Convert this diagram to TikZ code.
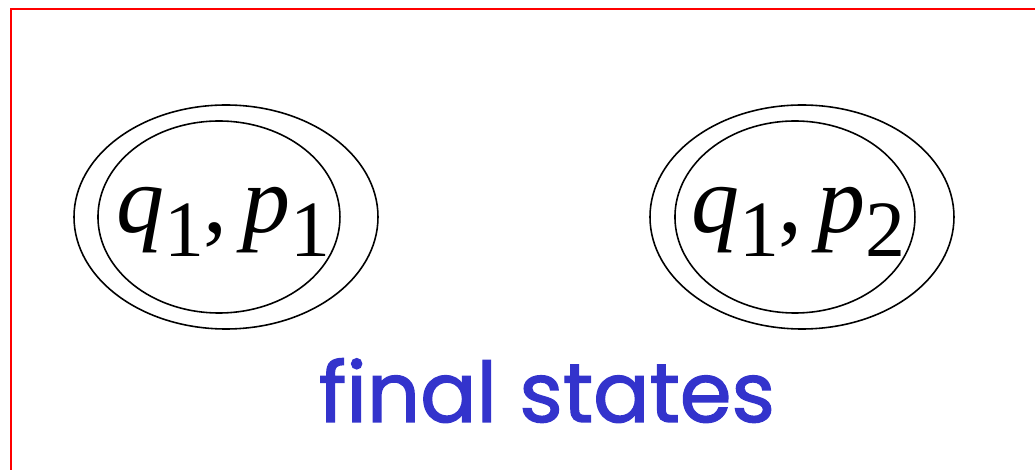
\documentclass[tikz,border=0pt]{standalone}
\usepackage{fontspec}
\setmainfont{Liberation Serif}
\newfontfamily\notefont[FakeBold=1.6]{Poppins}
\usepackage{tikz}
\definecolor{noteblue}{HTML}{3333CC}
\newcommand{\sublow}[1]{\raisebox{-6.8pt}{\upshape\fontsize{22.7}{24}\selectfont #1}}
\newcommand{\pairlabel}[2]{{\fontsize{27.3}{30}\selectfont\itshape q\/\sublow{1}\upshape,\hspace{4pt}\itshape p\/\sublow{#2}}}

\begin{document}
\begin{tikzpicture}[x=0.01cm, y=-0.01cm]
      % 1. 畫布與紅色邊框
      \useasboundingbox (0,0) rectangle (1035,470);
      \coordinate (frame_bl) at (11,470);
      \coordinate (frame_tl) at (11,9);
      \coordinate (frame_tr) at (1035,9);
      \draw[red, line width=0.6pt] (frame_bl) -- (frame_tl) -- (frame_tr);

      % 2. 兩個終態的中心
      \coordinate (c_11) at (226,217);
      \coordinate (c_12) at (802,217);

      % 3. 繪製雙圈
      \draw[black, line width=0.45pt] (c_11) ellipse [x radius=152, y radius=112];
      \draw[black, line width=0.45pt] ([xshift=-2]c_11) ellipse [x radius=121, y radius=96];
      \draw[black, line width=0.45pt] (c_12) ellipse [x radius=152, y radius=112];
      \draw[black, line width=0.45pt] ([xshift=-2]c_12) ellipse [x radius=120, y radius=96];

      % 4. 狀態標籤
      \node[anchor=base, inner sep=0pt] (s_11) at (223,233) {\pairlabel{1}{1}};
      \node[anchor=base, inner sep=0pt] (s_12) at (798,233) {\pairlabel{1}{2}};

      % 5. 說明文字
      \node[anchor=base, inner sep=0pt, text=noteblue] (note) at (547,422)
        {\notefont\fontsize{23.7}{26}\selectfont final states};
\end{tikzpicture}
\end{document}
